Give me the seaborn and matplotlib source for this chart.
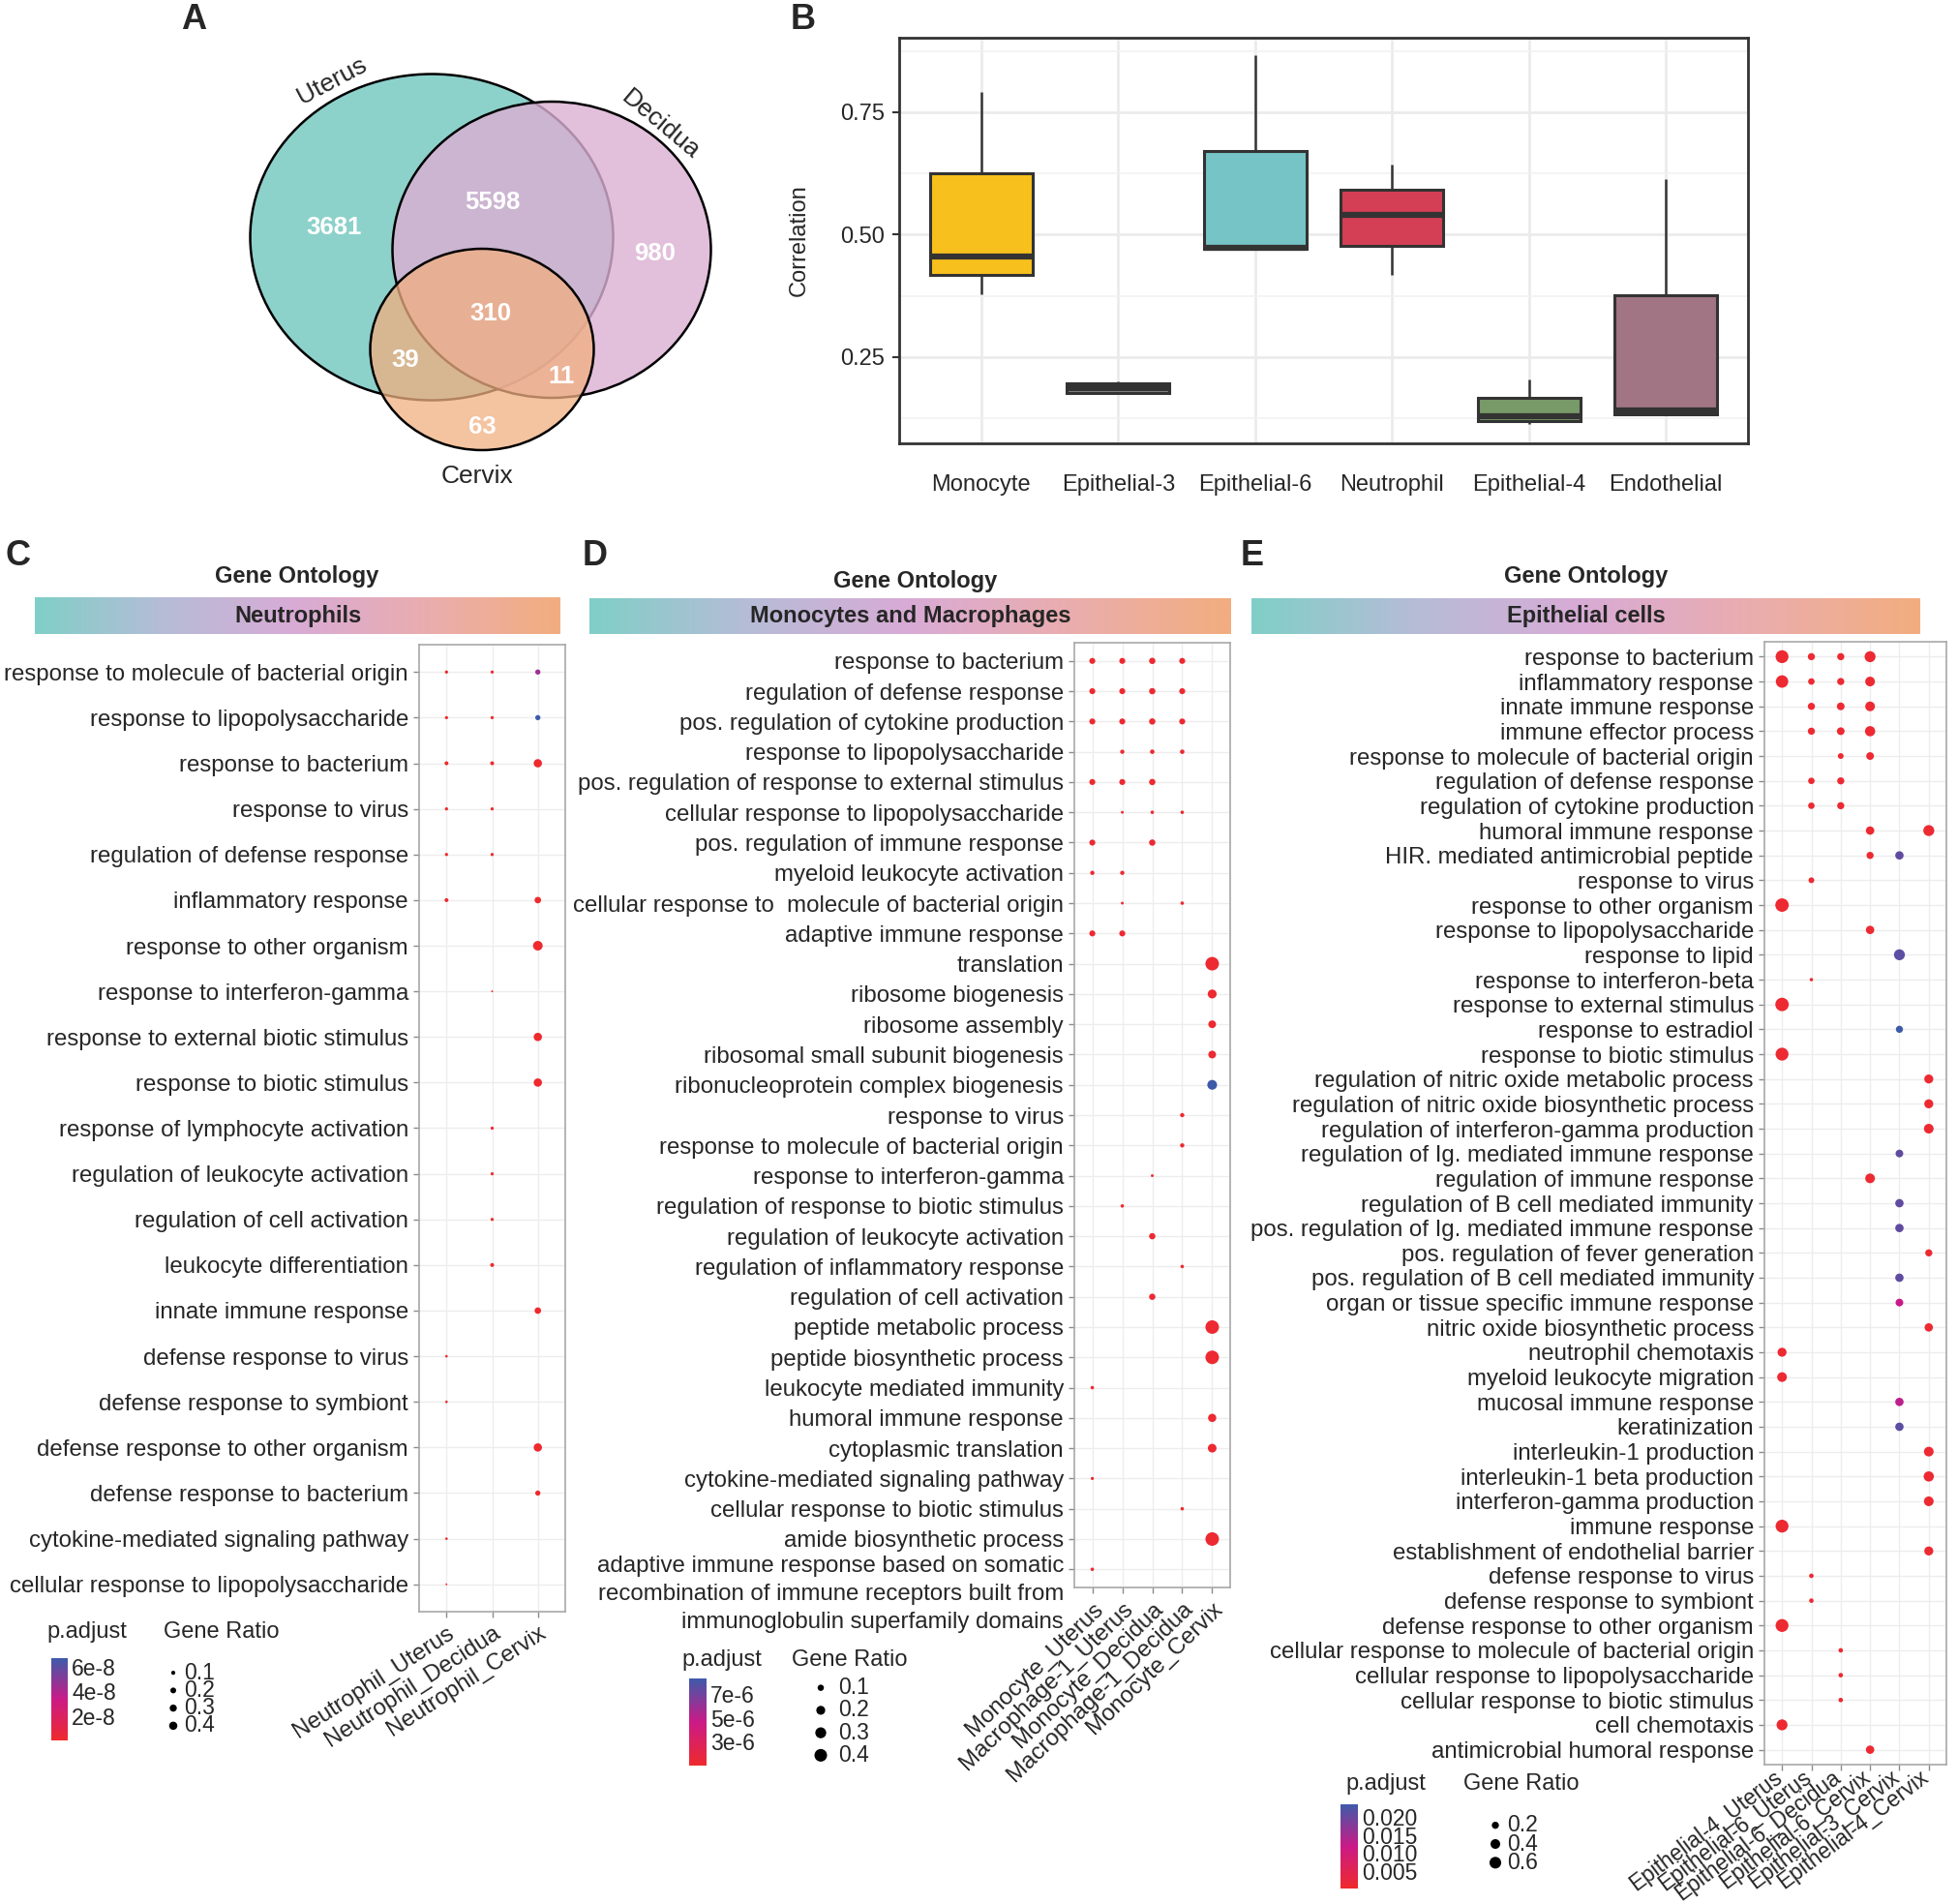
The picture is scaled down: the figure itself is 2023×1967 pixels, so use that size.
import numpy as np
import pandas as pd
import matplotlib
matplotlib.use("Agg")
import matplotlib.pyplot as plt
import matplotlib.transforms as mtrans
import seaborn as sns
from matplotlib.patches import Ellipse
from matplotlib.colors import LinearSegmentedColormap, Normalize, to_rgba
from matplotlib.cm import ScalarMappable
from matplotlib.ticker import FixedLocator

W, H = 2023, 1967
N = None

# ---------------- A: venn counts
VENN_SETS = ["Uterus", "Decidua", "Cervix"]
VENN_REGIONS = ["Uterus", "Uterus&Decidua", "Decidua", "all", "Uterus&Cervix", "Decidua&Cervix", "Cervix"]
VENN_COUNTS = [3681, 5598, 980, 310, 39, 11, 63]

# ---------------- B: correlation boxes (whisker low, q1, median, q3, whisker high)
BOX_CELLS = ["Monocyte", "Epithelial-3", "Epithelial-6", "Neutrophil", "Epithelial-4", "Endothelial"]
BOX_MIN = [0.379, 0.174, 0.471, 0.417, 0.113, 0.134]
BOX_Q1 = [0.417, 0.177, 0.471, 0.478, 0.120, 0.134]
BOX_MED = [0.455, 0.187, 0.474, 0.540, 0.130, 0.141]
BOX_Q3 = [0.625, 0.196, 0.671, 0.592, 0.167, 0.377]
BOX_MAX = [0.791, 0.200, 0.866, 0.643, 0.205, 0.614]
BOX_COLORS = ["#F8C01C", "#8C8C8C", "#76C4C6", "#D43F55", "#789A68", "#A27584"]

# ---------------- C: neutrophils
C_TERMS = ["response to molecule of bacterial origin", "response to lipopolysaccharide",
           "response to bacterium", "response to virus", "regulation of defense response",
           "inflammatory response", "response to other organism", "response to interferon-gamma",
           "response to external biotic stimulus", "response to biotic stimulus",
           "response of lymphocyte activation", "regulation of leukocyte activation",
           "regulation of cell activation", "leukocyte differentiation", "innate immune response",
           "defense response to virus", "defense response to symbiont",
           "defense response to other organism", "defense response to bacterium",
           "cytokine-mediated signaling pathway", "cellular response to lipopolysaccharide"]
C_GROUPS = ["Neutrophil_Uterus", "Neutrophil_Decidua", "Neutrophil_Cervix"]
C_RATIO = [[0.06, 0.06, 0.16], [0.06, 0.06, 0.16], [0.09, 0.09, 0.41], [0.06, 0.06, N],
           [0.06, 0.06, N], [0.09, N, 0.25], [N, N, 0.55], [N, 0.02, N], [N, N, 0.41],
           [N, N, 0.41], [N, 0.06, N], [N, 0.06, N], [N, 0.06, N], [N, 0.09, N],
           [N, N, 0.25], [0.04, N, N], [0.04, N, N], [N, N, 0.41], [N, N, 0.16],
           [0.04, N, N], [0.02, N, N]]
C_PADJ = [[1e-9, 1e-9, 4.4e-8], [1e-9, 1e-9, 6.7e-8], [1e-9, 1e-9, 1e-9], [1e-9, 1e-9, N],
          [1e-9, 1e-9, N], [1e-9, N, 1e-9], [N, N, 1e-9], [N, 1e-9, N], [N, N, 1e-9],
          [N, N, 1e-9], [N, 1e-9, N], [N, 1e-9, N], [N, 1e-9, N], [N, 1e-9, N],
          [N, N, 1e-9], [1e-9, N, N], [1e-9, N, N], [N, N, 1e-9], [N, N, 1e-9],
          [1e-9, N, N], [1e-9, N, N]]

# ---------------- D: monocytes and macrophages
D_TERMS = ["response to bacterium", "regulation of defense response",
           "pos. regulation of cytokine production", "response to lipopolysaccharide",
           "pos. regulation of response to external stimulus", "cellular response to lipopolysaccharide",
           "pos. regulation of immune response", "myeloid leukocyte activation",
           "cellular response to  molecule of bacterial origin", "adaptive immune response",
           "translation", "ribosome biogenesis", "ribosome assembly",
           "ribosomal small subunit biogenesis", "ribonucleoprotein complex biogenesis",
           "response to virus", "response to molecule of bacterial origin",
           "response to interferon-gamma", "regulation of response to biotic stimulus",
           "regulation of leukocyte activation", "regulation of inflammatory response",
           "regulation of cell activation", "peptide metabolic process",
           "peptide biosynthetic process", "leukocyte mediated immunity", "humoral immune response",
           "cytoplasmic translation", "cytokine-mediated signaling pathway",
           "cellular response to biotic stimulus", "amide biosynthetic process",
           "adaptive immune response based on somatic\nrecombination of immune receptors built from\nimmunoglobulin superfamily domains"]
D_GROUPS = ["Monocyte_Uterus", "Macrophage-1_Uterus", "Monocyte_Decidua", "Macrophage-1_Decidua", "Monocyte_Cervix"]
D_RATIO = [[.09, .09, .10, .09, N], [.09, .09, .10, .09, N], [.09, .09, .10, .09, N],
           [N, .045, .05, .05, N], [.09, .09, .10, N, N], [N, .02, .03, .03, N],
           [.09, N, .10, N, N], [.045, .045, N, N, N], [N, .02, N, .03, N],
           [.09, .09, N, N, N], [N, N, N, N, .46], [N, N, N, N, .20], [N, N, N, N, .15],
           [N, N, N, N, .15], [N, N, N, N, .24], [N, N, N, .045, N], [N, N, N, .045, N],
           [N, N, .02, N, N], [N, .03, N, N, N], [N, N, .10, N, N], [N, N, N, .03, N],
           [N, N, .10, N, N], [N, N, N, N, .46], [N, N, N, N, .46], [.03, N, N, N, N],
           [N, N, N, N, .17], [N, N, N, N, .19], [.025, N, N, N, N], [N, N, N, .03, N],
           [N, N, N, N, .46], [.03, N, N, N, N]]
D_PADJ = [[1.2e-6, 1.2e-6, 1.2e-6, 1.2e-6, N], [1.2e-6, 1.2e-6, 1.2e-6, 1.2e-6, N],
          [1.2e-6, 1.2e-6, 1.2e-6, 1.2e-6, N], [N, 1.2e-6, 1.2e-6, 1.2e-6, N],
          [1.2e-6, 1.2e-6, 1.2e-6, N, N], [N, 1.2e-6, 1.2e-6, 1.2e-6, N],
          [1.2e-6, N, 1.2e-6, N, N], [1.2e-6, 1.2e-6, N, N, N], [N, 1.2e-6, N, 1.2e-6, N],
          [1.2e-6, 1.2e-6, N, N, N], [N, N, N, N, 1.2e-6], [N, N, N, N, 1.2e-6],
          [N, N, N, N, 1.2e-6], [N, N, N, N, 1.2e-6], [N, N, N, N, 8.3e-6],
          [N, N, N, 1.2e-6, N], [N, N, N, 1.2e-6, N], [N, N, 1.2e-6, N, N],
          [N, 1.2e-6, N, N, N], [N, N, 1.2e-6, N, N], [N, N, N, 1.2e-6, N],
          [N, N, 1.2e-6, N, N], [N, N, N, N, 1.2e-6], [N, N, N, N, 1.2e-6],
          [1.2e-6, N, N, N, N], [N, N, N, N, 1.2e-6], [N, N, N, N, 1.2e-6],
          [1.2e-6, N, N, N, N], [N, N, N, 1.2e-6, N], [N, N, N, N, 1.2e-6],
          [1.2e-6, N, N, N, N]]

# ---------------- E: epithelial cells
E_TERMS = ["response to bacterium", "inflammatory response", "innate immune response",
           "immune effector process", "response to molecule of bacterial origin",
           "regulation of defense response", "regulation of cytokine production",
           "humoral immune response", "HIR. mediated antimicrobial peptide", "response to virus",
           "response to other organism", "response to lipopolysaccharide", "response to lipid",
           "response to interferon-beta", "response to external stimulus", "response to estradiol",
           "response to biotic stimulus", "regulation of nitric oxide metabolic process",
           "regulation of nitric oxide biosynthetic process",
           "regulation of interferon-gamma production", "regulation of Ig. mediated immune response",
           "regulation of immune response", "regulation of B cell mediated immunity",
           "pos. regulation of Ig. mediated immune response", "pos. regulation of fever generation",
           "pos. regulation of B cell mediated immunity", "organ or tissue specific immune response",
           "nitric oxide biosynthetic process", "neutrophil chemotaxis", "myeloid leukocyte migration",
           "mucosal immune response", "keratinization", "interleukin-1 production",
           "interleukin-1 beta production", "interferon-gamma production", "immune response",
           "establishment of endothelial barrier", "defense response to virus",
           "defense response to symbiont", "defense response to other organism",
           "cellular response to molecule of bacterial origin", "cellular response to lipopolysaccharide",
           "cellular response to biotic stimulus", "cell chemotaxis", "antimicrobial humoral response"]
E_GROUPS = ["Epithelial-4_Uterus", "Epithelial-6_Uterus", "Epithelial-6_Decidua",
            "Epithelial-6_Cervix", "Epithelial-3_Cervix", "Epithelial-4_Cervix"]
E_RATIO = [[.73, .20, .20, .52, N, N], [.68, .16, .20, .40, N, N], [N, .20, .24, .40, N, N],
           [N, .20, .24, .45, N, N], [N, N, .12, .24, N, N], [N, .16, .20, N, N, N],
           [N, .16, .20, N, N, N], [N, N, N, .29, N, .52], [N, N, N, .20, .29, N],
           [N, .12, N, N, N, N], [.80, N, N, N, N, N], [N, N, N, .29, N, N],
           [N, N, N, N, .52, N], [N, .02, N, N, N, N], [.80, N, N, N, N, N],
           [N, N, N, N, .20, N], [.73, N, N, N, N, N], [N, N, N, N, N, .34],
           [N, N, N, N, N, .34], [N, N, N, N, N, .40], [N, N, N, N, .24, N],
           [N, N, N, .40, N, N], [N, N, N, N, .29, N], [N, N, N, N, .29, N],
           [N, N, N, N, N, .20], [N, N, N, N, .29, N], [N, N, N, N, .24, N],
           [N, N, N, N, N, .29], [.34, N, N, N, N, N], [.40, N, N, N, N, N],
           [N, N, N, N, .29, N], [N, N, N, N, .29, N], [N, N, N, N, N, .40],
           [N, N, N, N, N, .45], [N, N, N, N, N, .40], [.73, N, N, N, N, N],
           [N, N, N, N, N, .34], [N, .06, N, N, N, N], [N, .06, N, N, N, N],
           [.73, N, N, N, N, N], [N, N, .06, N, N, N], [N, N, .06, N, N, N],
           [N, N, .06, N, N, N], [.52, N, N, N, N, N], [N, N, N, .29, N, N]]
E_PADJ = [[.001, .001, .001, .001, N, N], [.001, .001, .001, .001, N, N], [N, .001, .001, .001, N, N],
          [N, .001, .001, .001, N, N], [N, N, .001, .001, N, N], [N, .001, .001, N, N, N],
          [N, .001, .001, N, N, N], [N, N, N, .001, N, .001], [N, N, N, .001, .0205, N],
          [N, .001, N, N, N, N], [.001, N, N, N, N, N], [N, N, N, .001, N, N],
          [N, N, N, N, .021, N], [N, .001, N, N, N, N], [.001, N, N, N, N, N],
          [N, N, N, N, .0234, N], [.001, N, N, N, N, N], [N, N, N, N, N, .001],
          [N, N, N, N, N, .001], [N, N, N, N, N, .001], [N, N, N, N, .0205, N],
          [N, N, N, .001, N, N], [N, N, N, N, .0205, N], [N, N, N, N, .0205, N],
          [N, N, N, N, N, .001], [N, N, N, N, .0205, N], [N, N, N, N, .012, N],
          [N, N, N, N, N, .001], [.001, N, N, N, N, N], [.001, N, N, N, N, N],
          [N, N, N, N, .013, N], [N, N, N, N, .021, N], [N, N, N, N, N, .001],
          [N, N, N, N, N, .001], [N, N, N, N, N, .001], [.001, N, N, N, N, N],
          [N, N, N, N, N, .001], [N, .001, N, N, N, N], [N, .001, N, N, N, N],
          [.001, N, N, N, N, N], [N, N, .001, N, N, N], [N, N, .001, N, N, N],
          [N, N, .001, N, N, N], [.001, N, N, N, N, N], [N, N, N, .001, N, N]]

PCMAP = LinearSegmentedColormap.from_list("padj", ["#EF2A2C", "#CB1A87", "#3E5BAA"])
HEAD_CMAP = LinearSegmentedColormap.from_list("head", ["#80CFC7", "#B7BCD7", "#D9ABD5", "#EAADAE", "#F2AE7F"])

sns.set_style("white")
plt.rcParams['font.family'] = ['Liberation Sans', 'DejaVu Sans']
FS = 17
TFS = 17.25

fig = plt.figure(figsize=(W / 100, H / 100), dpi=100)


def px_axes(x0, y0, x1, y1):
    return fig.add_axes([x0 / W, 1 - y1 / H, (x1 - x0) / W, (y1 - y0) / H])


# ---------------- B
axB = px_axes(929, 39, 1806, 458)
df_box = pd.DataFrame({
    "cell": np.repeat(BOX_CELLS, 5),
    "corr": np.column_stack([BOX_MIN, BOX_Q1, BOX_MED, BOX_Q3, BOX_MAX]).ravel(),
})
sns.boxplot(data=df_box, x="cell", y="corr", hue="cell", order=BOX_CELLS, palette=BOX_COLORS,
            saturation=1, width=0.75, linewidth=2.2, linecolor="#333333", showfliers=False,
            showcaps=False, medianprops={"linewidth": 4.5}, whiskerprops={"linewidth": 1.8},
            legend=False, ax=axB)
axB.set_xlim(-0.6, 5.6)
axB.set_ylim(0.074, 0.902)
axB.set_yticks([0.25, 0.50, 0.75])
axB.set_yticklabels(["0.25", "0.50", "0.75"])
axB.yaxis.set_minor_locator(FixedLocator([0.125, 0.375, 0.625, 0.875]))
axB.grid(True, which="major", color="#EBEBEB", lw=2)
axB.grid(True, which="minor", axis="y", color="#F2F2F2", lw=1.2)
axB.set_axisbelow(True)
axB.tick_params(which="major", length=5, width=1.5, color="#333333", labelsize=FS)
axB.tick_params(which="minor", length=0)
axB.tick_params(axis="x", pad=18)
axB.tick_params(axis="y", pad=6, left=True)
axB.set_xlabel("")
axB.set_ylabel("Correlation", fontsize=FS, labelpad=22)
for s in axB.spines.values():
    s.set_visible(True)
    s.set_color("#333333")
    s.set_linewidth(2)


# ---------------- C/D/E dot plots
def dotplot(rect, terms, groups, ratio, padj, pnorm, snorm, sizes, rot, xfs=TFS, xshift=(0, 0)):
    ax = px_axes(*rect)
    rows = []
    for i in range(len(terms)):
        for j in range(len(groups)):
            if ratio[i][j] is not None:
                rows.append((j, i, ratio[i][j], padj[i][j]))
    df = pd.DataFrame(rows, columns=["x", "y", "ratio", "padj"])
    sns.scatterplot(data=df, x="x", y="y", hue="padj", size="ratio", palette=PCMAP,
                    hue_norm=pnorm, sizes=sizes, size_norm=snorm, linewidth=0,
                    legend=False, ax=ax, zorder=3)
    ax.set_xlim(-0.6, len(groups) - 0.4)
    ax.set_ylim(len(terms) - 0.4, -0.6)
    ax.set_xticks(range(len(groups)))
    ax.set_xticklabels(groups, rotation=rot, ha="right", rotation_mode="anchor", fontsize=xfs)
    ax.set_yticks(range(len(terms)))
    ax.set_yticklabels(terms, fontsize=TFS)
    ax.set_xlabel("")
    ax.set_ylabel("")
    ax.grid(True, color="#EDEDED", lw=1)
    ax.set_axisbelow(True)
    ax.tick_params(length=4, width=1, color="#8A8A8A", pad=4, left=True, bottom=True)
    for s in ax.spines.values():
        s.set_visible(True)
        s.set_color("#A8A8A8")
        s.set_linewidth(1.2)
    if xshift != (0, 0):
        for lbl in ax.get_xticklabels():
            lbl.set_transform(lbl.get_transform() +
                              mtrans.ScaledTranslation(xshift[0] / 72, xshift[1] / 72, fig.dpi_scale_trans))
    for lbl in ax.get_yticklabels():
        if "\n" in lbl.get_text():
            # first line sits on the tick, the rest hangs below
            lbl.set_va("baseline")
            lbl.set_linespacing(1.4)
            lbl.set_transform(lbl.get_transform() +
                              mtrans.ScaledTranslation(0, -43.5 / 72, fig.dpi_scale_trans))
    return ax


dotplot((433, 666, 584, 1665), C_TERMS, C_GROUPS, C_RATIO, C_PADJ,
        (0, 6.7e-8), (0, 0.6), (0, 56), 33)
dotplot((1110, 664, 1271, 1640), D_TERMS, D_GROUPS, D_RATIO, D_PADJ,
        (1.0e-6, 8.3e-6), (0, 0.5), (0, 110), 44)
dotplot((1823, 663, 2011, 1823), E_TERMS, E_GROUPS, E_RATIO, E_PADJ,
        (0.0002, 0.0234), (0, 0.8), (4, 100), 37, xfs=16.3, xshift=(-7, 7))


# ---------------- headers
def header(rect, label):
    ax = px_axes(*rect)
    ax.imshow(np.linspace(0, 1, 256)[None, :], aspect="auto", cmap=HEAD_CMAP, extent=[0, 1, 0, 1])
    ax.set_axis_off()
    ax.text(0.5, 0.5, label, ha="center", va="center", fontsize=FS, fontweight="bold",
            transform=ax.transAxes)


header((36, 617, 579, 655), "Neutrophils")
header((609, 618, 1272, 655), "Monocytes and Macrophages")
header((1293, 618, 1984, 655), "Epithelial cells")


# ---------------- legends
def color_legend(rect, norm, ticks, labels):
    cax = px_axes(*rect)
    cb = fig.colorbar(ScalarMappable(norm=Normalize(*norm), cmap=PCMAP), cax=cax)
    cb.outline.set_visible(False)
    cb.set_ticks(ticks)
    cb.set_ticklabels(labels)
    cax.tick_params(length=3.5, width=1, color="white", direction="in", labelsize=16.5, pad=3,
                    left=True, right=True, labelleft=False, labelright=True)


def size_legend(rect, values, snorm, sizes, lab_x):
    lax = px_axes(*rect)
    sns.scatterplot(x=[0] * len(values), y=list(range(len(values))), size=values, sizes=sizes,
                    size_norm=snorm, color="black", linewidth=0, legend=False, ax=lax)
    lax.set_xlim(-0.5, 0.5)
    lax.set_ylim(len(values) - 0.5, -0.5)
    lax.set_axis_off()
    for i, v in enumerate(values):
        lax.text(lab_x, i, f"{v:g}", ha="left", va="center", fontsize=16.5, clip_on=False)


color_legend((53, 1713, 70, 1798), (0, 6.7e-8), [2e-8, 4e-8, 6e-8], ["2e-8", "4e-8", "6e-8"])
color_legend((712, 1734, 730, 1824), (1.0e-6, 8.3e-6), [3e-6, 5e-6, 7e-6], ["3e-6", "5e-6", "7e-6"])
color_legend((1385, 1864, 1403, 1951), (0.0002, 0.0234), [0.005, 0.010, 0.015, 0.020],
             ["0.005", "0.010", "0.015", "0.020"])
size_legend((170, 1719, 188, 1792), [0.1, 0.2, 0.3, 0.4], (0, 0.6), (0, 56), 0.62)
size_legend((839, 1732, 857, 1825), [0.1, 0.2, 0.3, 0.4], (0, 0.5), (0, 110), 1.0)
size_legend((1536, 1876, 1554, 1934), [0.2, 0.4, 0.6], (0, 0.8), (4, 100), 0.67)

# ---------------- overlay: venn + free text
ov = px_axes(0, 0, W, H)
ov.set_xlim(0, W)
ov.set_ylim(H, 0)
ov.set_axis_off()
ov.patch.set_alpha(0)

venn_shapes = [((446, 245), 375, 337, "#8DD1CB", 1.0),
               ((570, 258), 329, 306, "#DBAFD3", 0.8),
               ((498, 361), 231, 208, "#F1AF80", 0.75)]
for (c, w, h, col, a) in venn_shapes:
    ov.add_patch(Ellipse(c, w, h, facecolor=to_rgba(col, a), edgecolor="black", lw=1.8))
venn_num_pos = [(345, 235), (509, 209), (677, 262), (507, 324), (419, 372), (580, 389), (498, 441)]
for (x, y), n in zip(venn_num_pos, VENN_COUNTS):
    ov.text(x, y, str(n), ha="center", va="center", color="white", fontsize=18.5, fontweight="bold")
ov.text(343, 84, VENN_SETS[0], ha="center", va="center", fontsize=19, rotation=28)
ov.text(682, 129, VENN_SETS[1], ha="center", va="center", fontsize=19, rotation=-40)
ov.text(493, 492, VENN_SETS[2], ha="center", va="center", fontsize=19)

for (x, y, t) in [(200, 20, "A"), (830, 20, "B"), (19, 574, "C"), (615, 574, "D"), (1294, 574, "E")]:
    ov.text(x, y, t, ha="center", va="center", fontsize=26, fontweight="bold")

for (x, y) in [(307, 595), (946, 600), (1639, 595)]:
    ov.text(x, y, "Gene Ontology", ha="center", va="center", fontsize=FS, fontweight="bold")

for (x, y) in [(48, 1686), (704, 1715), (1390, 1843)]:
    ov.text(x, y, "p.adjust", ha="left", va="center", fontsize=FS)
for (x, y) in [(169, 1686), (818, 1715), (1512, 1843)]:
    ov.text(x, y, "Gene Ratio", ha="left", va="center", fontsize=FS)

fig.savefig("out.png", dpi=100)
